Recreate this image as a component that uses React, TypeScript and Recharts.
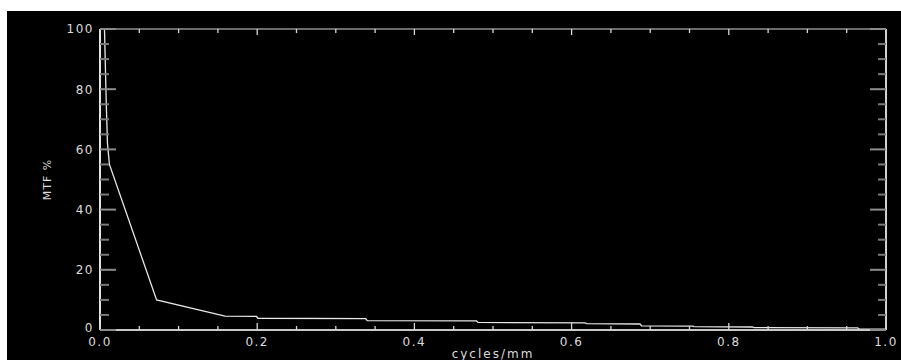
import React from "react"
import { Line, LineChart, XAxis, YAxis } from "recharts"

// spatial frequency (cycles/mm) and MTF (%)
const freq = [0.0057, 0.008, 0.0095, 0.012, 0.072, 0.159, 0.199, 0.201, 0.338, 0.34, 0.479, 0.481, 0.617, 0.619, 0.687, 0.689, 0.754, 0.756, 0.83, 0.832, 0.964, 0.966, 1.0]
const mtf = [100, 75, 62, 55, 10, 4.6, 4.5, 3.9, 3.8, 3.1, 3.0, 2.5, 2.4, 2.1, 2.0, 1.4, 1.3, 1.1, 1.0, 0.8, 0.7, 0.3, 0.3]

const xTicks = [0, 0.05, 0.1, 0.15, 0.2, 0.25, 0.3, 0.35, 0.4, 0.45, 0.5, 0.55, 0.6, 0.65, 0.7, 0.75, 0.8, 0.85, 0.9, 0.95, 1.0]
const yTicks = [0, 5, 10, 15, 20, 25, 30, 35, 40, 45, 50, 55, 60, 65, 70, 75, 80, 85, 90, 95, 100]

const data = freq.map((f, i) => ({ f, mtf: mtf[i] }))

const font = {
  fontFamily: "DejaVu Sans",
  fontSize: 12,
  fill: "#dcdcdc",
  letterSpacing: 1.5,
}

const isMajorX = (v: number) => Math.abs(v * 5 - Math.round(v * 5)) < 1e-6
const isMajorY = (v: number) => v % 20 === 0

const M = 6 // tick margin, used to get back to the axis edge

const LeftTick = (props: any) => {
  const { x, y, payload } = props
  const edge = x + M
  const major = isMajorY(payload.value)
  return (
    <g>
      <line x1={edge} x2={edge + (major ? 16 : 9)} y1={y} y2={y} stroke={major ? "#8c8c8c" : "#7a7a7a"} strokeWidth={2} />
      {major ? (
        <text x={x} y={y} dy={payload.value === 0 ? "0.2em" : "0.36em"} textAnchor="end" {...font}>
          {payload.value}
        </text>
      ) : null}
    </g>
  )
}

const RightTick = (props: any) => {
  const { x, y, payload } = props
  const edge = x - M
  const major = isMajorY(payload.value)
  return <line x1={edge} x2={edge - (major ? 16 : 8)} y1={y} y2={y} stroke={major ? "#8c8c8c" : "#7a7a7a"} strokeWidth={2} />
}

const BottomTick = (props: any) => {
  const { x, y, payload } = props
  const edge = y - 7
  const major = isMajorX(payload.value)
  return (
    <g>
      <line x1={x} x2={x} y1={edge} y2={edge - (major ? 7 : 4)} stroke="#d8d8d8" strokeWidth={1.3} />
      {major ? (
        <text x={x} y={y} dy="0.71em" textAnchor="middle" {...font}>
          {payload.value.toFixed(1)}
        </text>
      ) : null}
    </g>
  )
}

const TopTick = (props: any) => {
  const { x, y, payload } = props
  const major = isMajorX(payload.value)
  return <line x1={x} x2={x} y1={y} y2={y + (major ? 6 : 4)} stroke="#d8d8d8" strokeWidth={1.3} />
}

const YLabel = (props: any) => {
  const { x, y, height } = props.viewBox
  const cx = x + 40
  const cy = y + height / 2
  return (
    <text x={cx} y={cy} transform={`rotate(-90, ${cx}, ${cy})`} textAnchor="middle" dy="0.36em" {...font} fontSize={11} letterSpacing={1}>
      MTF %
    </text>
  )
}

const XLabel = (props: any) => {
  const { x, y, width } = props.viewBox
  return (
    <text x={x + width / 2} y={y + 24} textAnchor="middle" dy="0.36em" {...font} letterSpacing={2}>
      cycles/mm
    </text>
  )
}

export default function App() {
  return (
    <div style={{ position: "absolute", left: 7, top: 11, width: 894, height: 349, background: "#000" }}>
      <LineChart width={894} height={349} data={data} margin={{ top: 0, right: 0, left: 0, bottom: 0 }}>
        <XAxis
          xAxisId="b"
          dataKey="f"
          type="number"
          domain={[0, 1]}
          ticks={xTicks}
          interval={0}
          height={30}
          tickSize={0}
          tickMargin={7}
          tickLine={false}
          axisLine={{ stroke: "#c8c8c8", strokeWidth: 2 }}
          tick={<BottomTick />}
          label={<XLabel />}
        />
        <XAxis
          xAxisId="t"
          orientation="top"
          dataKey="f"
          type="number"
          domain={[0, 1]}
          ticks={xTicks}
          interval={0}
          height={18}
          tickSize={0}
          tickMargin={0}
          tickLine={false}
          axisLine={{ stroke: "#6c6c6c", strokeWidth: 2 }}
          tick={<TopTick />}
        />
        <YAxis
          yAxisId="l"
          type="number"
          domain={[0, 100]}
          ticks={yTicks}
          interval={0}
          width={93}
          tickSize={0}
          tickMargin={M}
          tickLine={false}
          axisLine={{ stroke: "#e4e4e4", strokeWidth: 2 }}
          tick={<LeftTick />}
          label={<YLabel />}
        />
        <YAxis
          yAxisId="r"
          orientation="right"
          type="number"
          domain={[0, 100]}
          ticks={yTicks}
          interval={0}
          width={15}
          tickSize={0}
          tickMargin={M}
          tickLine={false}
          axisLine={{ stroke: "#d0d0d0", strokeWidth: 2 }}
          tick={<RightTick />}
        />
        {/* invisible twin so the top/right frame axes get a scale and draw their ticks */}
        <Line
          xAxisId="t"
          yAxisId="r"
          type="linear"
          dataKey="mtf"
          stroke="none"
          dot={false}
          activeDot={false}
          legendType="none"
          isAnimationActive={false}
        />
        <Line
          xAxisId="b"
          yAxisId="l"
          type="linear"
          dataKey="mtf"
          stroke="#e8e8e8"
          strokeWidth={1.3}
          dot={false}
          isAnimationActive={false}
        />
      </LineChart>
    </div>
  )
}
